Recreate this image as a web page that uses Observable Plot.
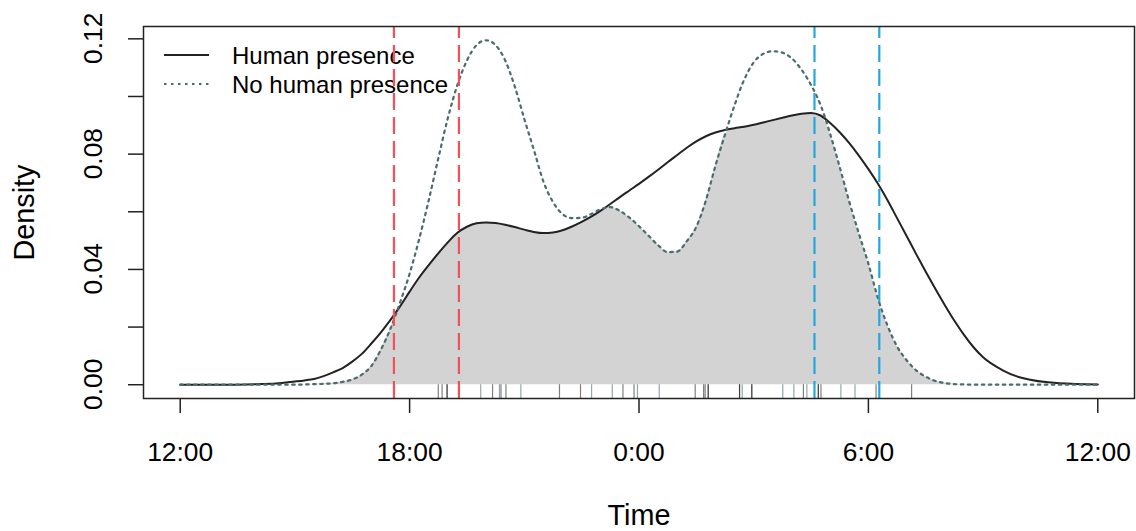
<!DOCTYPE html>
<html><head><meta charset="utf-8">
<script src="https://cdn.jsdelivr.net/npm/d3@7"></script>
<script src="https://cdn.jsdelivr.net/npm/@observablehq/plot@0.6"></script>
<style>html,body{margin:0;padding:0;background:#fff;}</style>
</head><body><div id="chart"></div>
<script>
// Hours since 12:00 (noon) — 0 = 12:00, 12 = 0:00, 24 = 12:00 next day
const hours = [0,1,2,2.5,3,3.25,3.5,3.75,4,4.25,4.5,4.75,5,5.25,5.5,5.75,6,6.25,6.5,6.75,7,7.25,7.5,7.75,8,8.25,8.5,8.75,9,9.25,9.5,9.75,10,10.25,10.5,10.75,11,11.25,11.5,11.75,12,12.25,12.5,12.75,13,13.25,13.5,13.75,14,14.25,14.5,14.75,15,15.25,15.5,15.75,16,16.25,16.5,16.75,17,17.25,17.5,17.75,18,18.25,18.5,18.75,19,19.25,19.5,19.75,20,20.25,20.5,20.75,21,21.5,22,23,24];

const humanDensity = [0,0,0.0002,0.0004,0.0011,0.0015,0.0020,0.0030,0.0043,0.0058,0.0080,0.0107,0.0143,0.0182,0.0225,0.0272,0.0323,0.0372,0.0415,0.0456,0.0494,0.0527,0.0548,0.0560,0.0563,0.0561,0.0555,0.0547,0.0538,0.0530,0.0526,0.0528,0.0536,0.0549,0.0565,0.0583,0.0604,0.0627,0.0651,0.0674,0.0697,0.0721,0.0746,0.0772,0.0797,0.0822,0.0844,0.0862,0.0875,0.0884,0.0890,0.0895,0.0902,0.0910,0.0918,0.0926,0.0934,0.0940,0.0943,0.0934,0.0908,0.0876,0.0838,0.0795,0.0748,0.0697,0.0640,0.0578,0.0516,0.0453,0.0392,0.0333,0.0276,0.0222,0.0173,0.0130,0.0095,0.0051,0.0024,0.0005,0.0001];

const noHumanDensity = [0,0,0,0,0,0.0001,0.0002,0.0003,0.0005,0.0010,0.0018,0.0035,0.0065,0.0122,0.0195,0.0285,0.0385,0.0505,0.0640,0.0785,0.0925,0.1040,0.1125,0.1178,0.1195,0.1178,0.1125,0.1035,0.0922,0.0815,0.0705,0.0634,0.0592,0.0578,0.0579,0.0592,0.0609,0.0616,0.0603,0.0580,0.0550,0.0517,0.0484,0.0460,0.0462,0.0498,0.0548,0.0640,0.0760,0.0868,0.0970,0.1058,0.1118,0.1148,0.1157,0.1152,0.1132,0.1093,0.1040,0.0970,0.0870,0.0755,0.0635,0.0525,0.0420,0.0300,0.0205,0.0133,0.0085,0.0050,0.0028,0.0013,0.0006,0.0002,0.0001,0,0,0,0,0,0];

// Rug: observation times (hours since noon)
const rugHuman = [6.75,6.85,6.98,6.98,8.17,8.39,8.52,9.92,10.47,11.58,11.87,13.47,13.69,13.73,13.81,13.81,14.63,14.63,14.95,14.95,16.30,16.69,16.69,16.76,18.20,19.13];
const rugNoHuman = [7.86,8.35,8.91,10.76,11.30,11.96,12.53,14.70,15.76,16.05,16.39,17.28,17.65];

// Sunset (red) and sunrise (blue) reference lines
const sunsetLines = [5.59, 7.29];
const sunriseLines = [16.59, 18.285];

const xTicks = [0, 6, 12, 18, 24];
const xTickLabels = ["12:00", "18:00", "0:00", "6:00", "12:00"];
const yTicks = [0, 0.02, 0.04, 0.06, 0.08, 0.10, 0.12];
const yLabelTicks = [0, 0.04, 0.08, 0.12];
const yLabelTexts = ["0.00", "0.04", "0.08", "0.12"];
const legendLabels = ["Human presence", "No human presence"];

const FONT = "'Liberation Sans', Arial, Helvetica, sans-serif";
const ymax = d3.max([...humanDensity, ...noHumanDensity]);
const yLo = -0.04 * ymax, yHi = 1.04 * ymax;

function legendMark() {
  const g = d3.create("svg:g").attr("font-family", FONT).attr("font-size", 24)
    .attr("fill", "#000").attr("text-anchor", "start");
  const rows = [
    {y: 55, ty: 64, label: legendLabels[0], stroke: "#222", dash: null, w: 2},
    {y: 84, ty: 93, label: legendLabels[1], stroke: "#4a6c6c", dash: "2.5,4.5", w: 2.2}
  ];
  for (const r of rows) {
    const l = g.append("line").attr("x1", 164).attr("x2", 209).attr("y1", r.y).attr("y2", r.y)
      .attr("stroke", r.stroke).attr("stroke-width", r.w);
    if (r.dash) l.attr("stroke-dasharray", r.dash);
    g.append("text").attr("x", 232).attr("y", r.ty).text(r.label);
  }
  return g.node();
}

function yLabelMark(index, scales) {
  const g = d3.create("svg:g").attr("font-family", FONT).attr("font-size", 26.4)
    .attr("fill", "#000").attr("text-anchor", "middle");
  yLabelTicks.forEach((v, i) => {
    g.append("text")
      .attr("transform", `translate(102,${scales.y(v)}) rotate(-90)`)
      .text(yLabelTexts[i]);
  });
  return g.node();
}

const chart = Plot.plot({
  width: 1136, height: 531,
  marginLeft: 143, marginRight: 2, marginTop: 26, marginBottom: 133,
  x: {domain: [-0.96, 24.96]},
  y: {domain: [yLo, yHi]},
  style: {fontFamily: FONT, fontSize: "24px", background: "#fff", color: "#000"},
  marks: [
    Plot.areaY(hours, {x: h => h, y: (h, i) => Math.min(humanDensity[i], noHumanDensity[i]), fill: "#d3d3d3", curve: "monotone-x"}),
    Plot.line(hours, {x: h => h, y: (h, i) => humanDensity[i], stroke: "#222", strokeWidth: 2, curve: "monotone-x"}),
    Plot.line(hours, {x: h => h, y: (h, i) => noHumanDensity[i], stroke: "#4a6c6c", strokeWidth: 2.2, strokeDasharray: "2.5,4.5", curve: "monotone-x"}),
    Plot.ruleX(rugHuman, {x: d => d, y1: 0, y2: yLo, stroke: "#000", strokeOpacity: 0.5, strokeWidth: 1.2}),
    Plot.ruleX(rugNoHuman, {x: d => d, y1: 0, y2: yLo, stroke: "#1f5555", strokeOpacity: 0.5, strokeWidth: 1.2}),
    legendMark,
    Plot.ruleX(sunsetLines, {x: d => d, y1: yLo, y2: yHi, stroke: "#f5505a", strokeWidth: 2.2, strokeDasharray: "17,7"}),
    Plot.ruleX(sunriseLines, {x: d => d, y1: yLo, y2: yHi, stroke: "#23a8de", strokeWidth: 2.2, strokeDasharray: "17,7"}),
    Plot.frame({stroke: "#222", strokeWidth: 1.5}),
    Plot.axisX({ticks: xTicks, tickSize: 15, tickFormat: () => "", label: null, stroke: "#222", strokeWidth: 1.5}),
    Plot.text(xTicks, {x: d => d, text: (d, i) => xTickLabels[i], frameAnchor: "bottom", dy: 54, lineAnchor: "middle", textAnchor: "middle", fontSize: 26.4, fill: "#000"}),
    Plot.axisY({ticks: yTicks, tickSize: 15, tickFormat: () => "", label: null, stroke: "#222", strokeWidth: 1.5}),
    yLabelMark,
    Plot.text(["Time"], {text: d => d, frameAnchor: "bottom", dy: 117, lineAnchor: "middle", textAnchor: "middle", fontSize: 28.8, fill: "#000"}),
    Plot.text(["Density"], {text: d => d, frameAnchor: "left", dx: -119, rotate: -90, lineAnchor: "middle", textAnchor: "middle", fontSize: 28.8, fill: "#000"})
  ]
});
document.getElementById("chart").appendChild(chart);
</script>
</body></html>
